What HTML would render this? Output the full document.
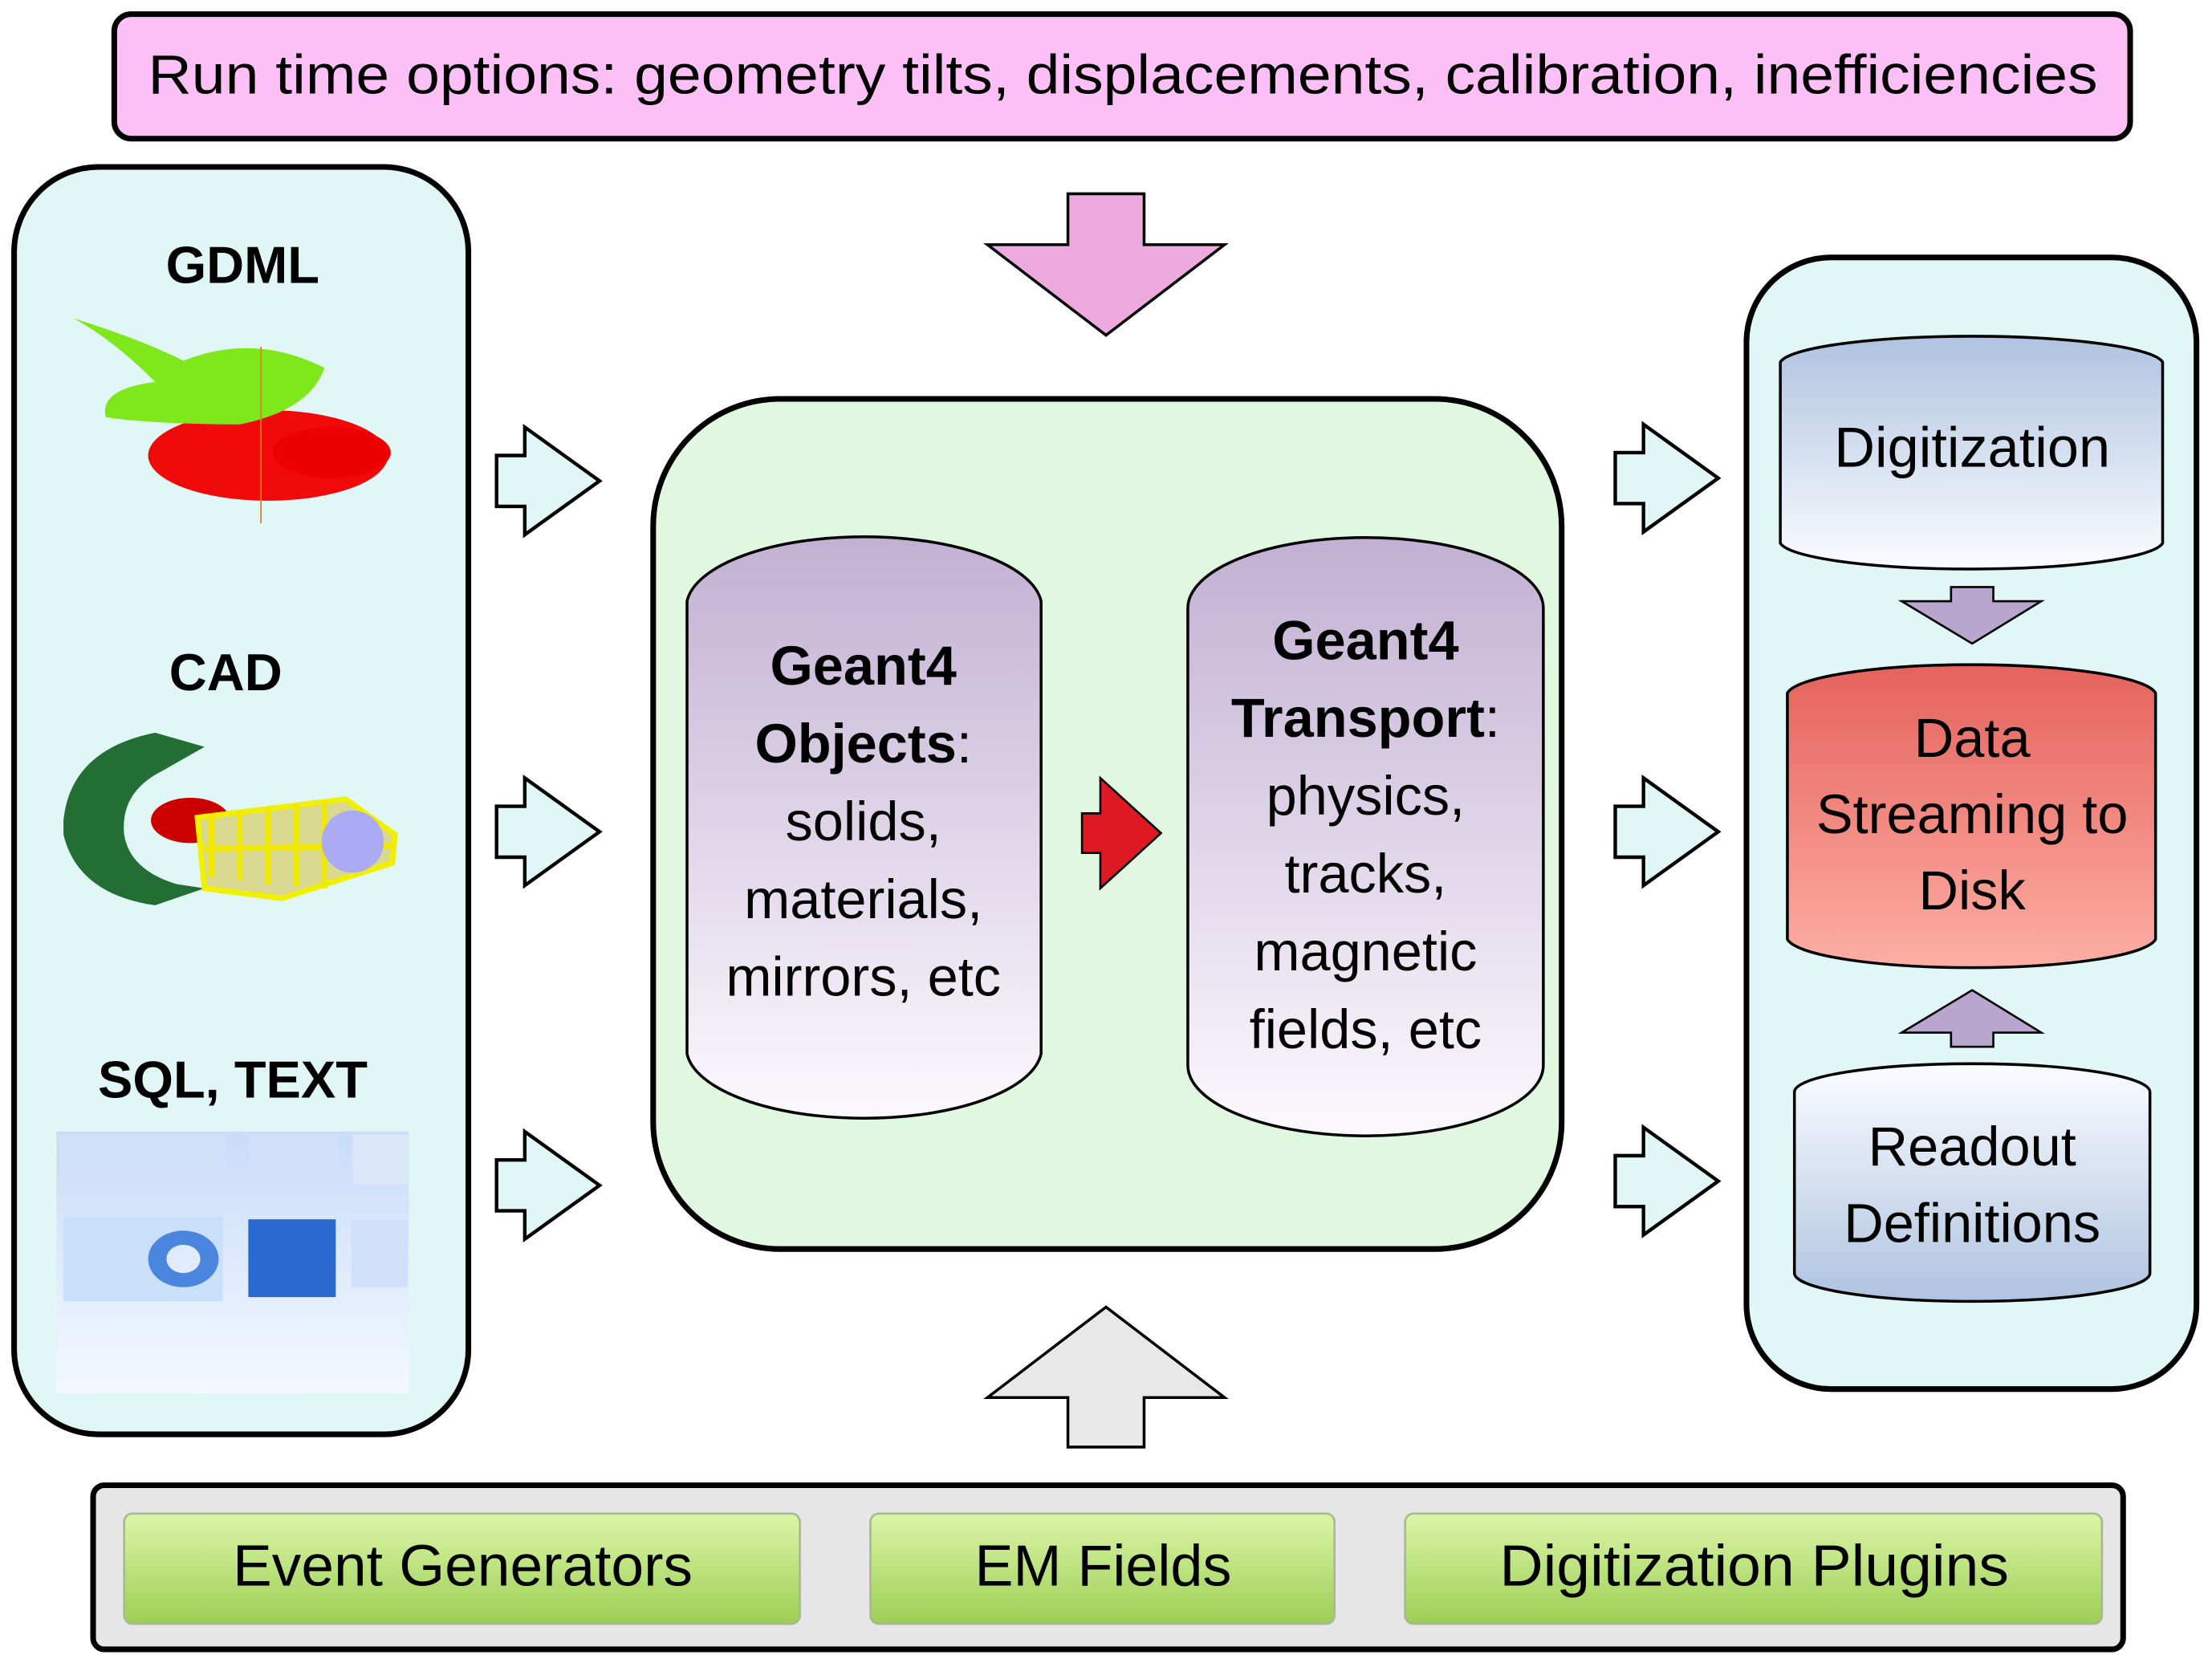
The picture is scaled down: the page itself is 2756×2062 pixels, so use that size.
<!DOCTYPE html>
<html><head><meta charset="utf-8"><style>
html,body{margin:0;padding:0;background:#fff;}
svg{display:block;}
text{font-family:"Liberation Sans",sans-serif;}
</style></head><body>
<svg width="2756" height="2062" viewBox="0 0 1568 1170" preserveAspectRatio="none" xmlns="http://www.w3.org/2000/svg">
<defs>
<linearGradient id="pur" x1="0" y1="0" x2="0" y2="1"><stop offset="0" stop-color="#c2b0d3"/><stop offset="1" stop-color="#fbf9fd"/></linearGradient>
<linearGradient id="blu" x1="0" y1="0" x2="0" y2="1"><stop offset="0" stop-color="#aec3e0"/><stop offset="1" stop-color="#fbfcff"/></linearGradient>
<linearGradient id="blu2" x1="0" y1="0" x2="0" y2="1"><stop offset="0" stop-color="#fbfcff"/><stop offset="1" stop-color="#aec3e0"/></linearGradient>
<linearGradient id="red" x1="0" y1="0" x2="0" y2="1"><stop offset="0" stop-color="#e5625c"/><stop offset="1" stop-color="#fdaea4"/></linearGradient>
<linearGradient id="grn" x1="0" y1="0" x2="0" y2="1"><stop offset="0" stop-color="#dcf5a8"/><stop offset="1" stop-color="#9ccf55"/></linearGradient>
<linearGradient id="scr" x1="0" y1="0" x2="0" y2="1"><stop offset="0" stop-color="#c8dcf8"/><stop offset="1" stop-color="#f4f8ff"/></linearGradient>
</defs>
<rect x="81" y="10" width="1429" height="88" rx="12" fill="#fcc0f6" stroke="#000" stroke-width="4"/>
<text x="105" y="66" font-size="39" textLength="1382" lengthAdjust="spacingAndGlyphs">Run time options: geometry tilts, displacements, calibration, inefficiencies</text>
<rect x="10" y="118" width="322" height="896" rx="60" fill="#e0f7f6" stroke="#000" stroke-width="4"/>
<text x="172" y="200" font-size="37" font-weight="bold" text-anchor="middle">GDML</text>
<ellipse cx="190" cy="322" rx="85" ry="32" fill="#f00a0a"/>
<ellipse cx="235" cy="320" rx="42" ry="18" fill="#e00"/>
<path d="M52,225 Q100,240 130,255 Q180,235 230,260 Q220,290 170,300 Q110,300 75,295 Q70,275 110,270 Q80,240 52,225Z" fill="#7fe81a"/>
<line x1="185" y1="245" x2="185" y2="370" stroke="#e87a20" stroke-width="1"/>
<text x="160" y="488" font-size="37" font-weight="bold" text-anchor="middle">CAD</text>
<path d="M45,580 Q50,530 110,518 L145,528 L115,545 Q85,560 88,590 Q92,615 125,625 L145,628 L110,640 Q55,632 45,590Z" fill="#236e35"/>
<ellipse cx="135" cy="580" rx="28" ry="16" fill="#c00"/>
<path d="M140,578 L245,565 L280,590 L278,610 L200,635 L145,628 Z" fill="#d8d890" stroke="#f0f000" stroke-width="4"/>
<path d="M150,575 L150,620 M170,573 L170,622 M190,570 L190,625 M210,568 L210,626 M230,566 L230,628 M145,600 L280,598" stroke="#f0e800" stroke-width="4" fill="none"/>
<ellipse cx="250" cy="595" rx="22" ry="22" fill="#aaaaf5"/>
<text x="165" y="776" font-size="37" font-weight="bold" text-anchor="middle">SQL, TEXT</text>
<rect x="40" y="800" width="250" height="185" fill="url(#scr)"/>
<rect x="42" y="802" width="118" height="28" fill="#d0e2fa"/>
<rect x="176" y="802" width="64" height="30" fill="#cfe0f8"/>
<rect x="250" y="802" width="40" height="35" fill="#dbe8fa"/>
<rect x="45" y="860" width="113" height="60" fill="#cadff8"/>
<ellipse cx="130" cy="890" rx="25" ry="20" fill="#4a86e0"/>
<ellipse cx="130" cy="890" rx="12" ry="10" fill="#e0ecfc"/>
<rect x="176" y="862" width="62" height="55" fill="#2a6ad0"/>
<rect x="249" y="862" width="40" height="48" fill="#cfe0f8"/>
<g fill="#e0f7f6" stroke="#000" stroke-width="2.5">
<path d="M352,322 L372,322 L372,302 L425,340 L372,378 L372,358 L352,358Z"/>
<path d="M352,570 L372,570 L372,550 L425,588 L372,626 L372,606 L352,606Z"/>
<path d="M352,820 L372,820 L372,800 L425,838 L372,876 L372,856 L352,856Z"/>
<path d="M1145,320 L1165,320 L1165,300 L1218,338 L1165,376 L1165,356 L1145,356Z"/>
<path d="M1145,570 L1165,570 L1165,550 L1218,588 L1165,626 L1165,606 L1145,606Z"/>
<path d="M1145,817 L1165,817 L1165,797 L1218,835 L1165,873 L1165,853 L1145,853Z"/>
</g>
<path d="M757,137 L811,137 L811,173 L868,173 L784,237 L700,173 L757,173Z" fill="#eeaadf" stroke="#000" stroke-width="2"/>
<path d="M757,1023 L811,1023 L811,988 L868,988 L784,924 L700,988 L757,988Z" fill="#e8e8e8" stroke="#000" stroke-width="2"/>
<rect x="463" y="282" width="644" height="601" rx="90" fill="#e0f7e0" stroke="#000" stroke-width="4"/>
<path d="M487,425 A126,50 0 0 1 738,425 L738,745 A126,50 0 0 1 487,745 Z" fill="url(#pur)" stroke="#000" stroke-width="2"/>
<path d="M842,430 A126,50 0 0 1 1094,430 L1094,753 A126,50 0 0 1 842,753 Z" fill="url(#pur)" stroke="#000" stroke-width="2"/>
<g font-size="39" text-anchor="middle">
<text x="612" y="484" font-weight="bold">Geant4</text>
<text x="612" y="539"><tspan font-weight="bold">Objects</tspan>:</text>
<text x="612" y="594">solids,</text>
<text x="612" y="649">materials,</text>
<text x="612" y="704">mirrors, etc</text>
<text x="968" y="466" font-weight="bold">Geant4</text>
<text x="968" y="521"><tspan font-weight="bold">Transport</tspan>:</text>
<text x="968" y="576">physics,</text>
<text x="968" y="631">tracks,</text>
<text x="968" y="686">magnetic</text>
<text x="968" y="741">fields, etc</text>
</g>
<path d="M767,575 L780,575 L780,550 L823,589 L780,628 L780,603 L767,603Z" fill="#dd1a24" stroke="#000" stroke-width="1.5"/>
<rect x="1238" y="182" width="319" height="800" rx="60" fill="#e0f7f6" stroke="#000" stroke-width="4"/>
<path d="M1262,256 A136,20 0 0 1 1533,256 L1533,384 A136,20 0 0 1 1262,384 Z" fill="url(#blu)" stroke="#000" stroke-width="2"/>
<text x="1398" y="330" font-size="40" text-anchor="middle">Digitization</text>
<path d="M1383,415 L1413,415 L1413,425 L1447,425 L1398,455 L1348,425 L1383,425Z" fill="#b8a6cf" stroke="#000" stroke-width="1.5"/>
<path d="M1267,490 A131,22 0 0 1 1528,490 L1528,664 A131,22 0 0 1 1267,664 Z" fill="url(#red)" stroke="#000" stroke-width="2"/>
<g font-size="39" text-anchor="middle"><text x="1398" y="535">Data</text><text x="1398" y="589">Streaming to</text><text x="1398" y="643">Disk</text></g>
<path d="M1383,740 L1413,740 L1413,730 L1447,730 L1398,700 L1348,730 L1383,730Z" fill="#b8a6cf" stroke="#000" stroke-width="1.5"/>
<path d="M1272,772 A126,20 0 0 1 1524,772 L1524,900 A126,20 0 0 1 1272,900 Z" fill="url(#blu2)" stroke="#000" stroke-width="2"/>
<g font-size="39" text-anchor="middle"><text x="1398" y="824">Readout</text><text x="1398" y="878">Definitions</text></g>
<rect x="66" y="1050" width="1439" height="116" rx="8" fill="#e6e6e6" stroke="#000" stroke-width="4"/>
<g stroke="#a8b890" stroke-width="1.5" fill="url(#grn)">
<rect x="88" y="1070" width="479" height="78" rx="6"/>
<rect x="617" y="1070" width="329" height="78" rx="6"/>
<rect x="996" y="1070" width="494" height="78" rx="6"/>
</g>
<g font-size="41">
<text x="165" y="1121" textLength="326" lengthAdjust="spacingAndGlyphs">Event Generators</text>
<text x="691" y="1121" textLength="182" lengthAdjust="spacingAndGlyphs">EM Fields</text>
<text x="1063" y="1121" textLength="361" lengthAdjust="spacingAndGlyphs">Digitization Plugins</text>
</g>
</svg>
</body></html>
